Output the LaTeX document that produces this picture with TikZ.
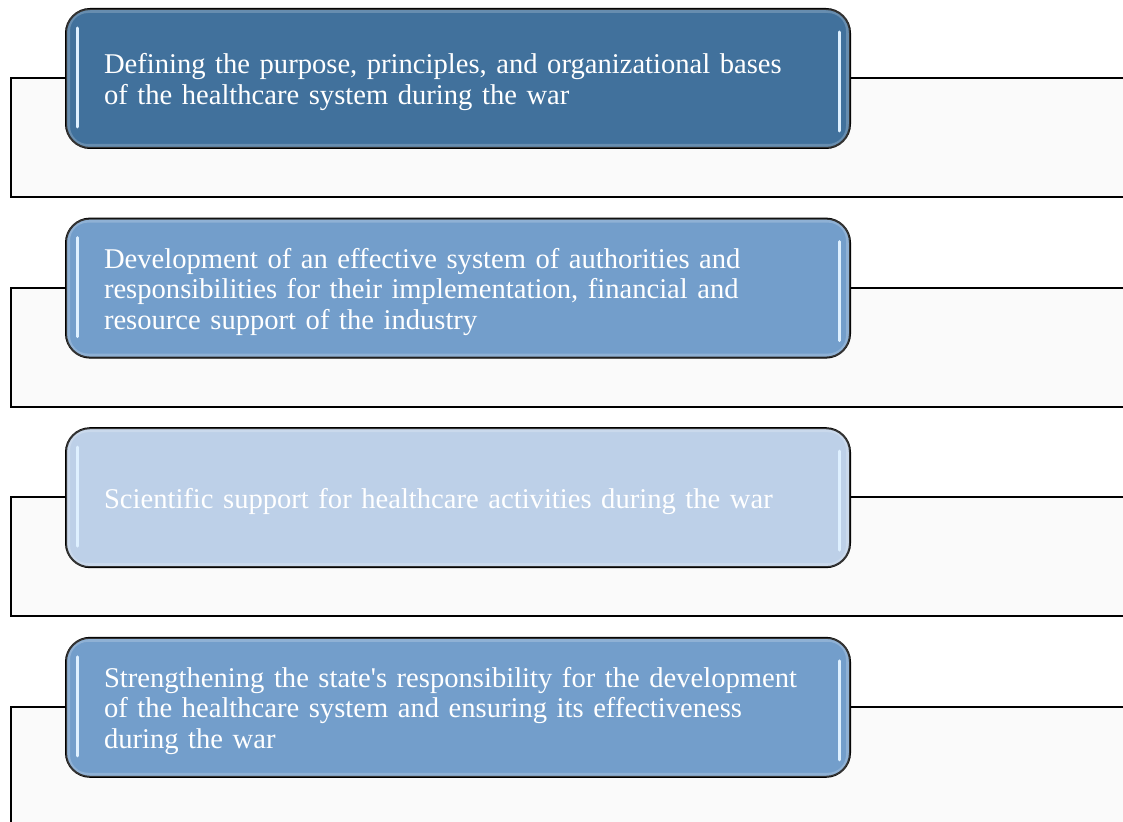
\documentclass[tikz,border=0pt]{standalone}
\usepackage{fontspec}
\setmainfont{Liberation Serif}
\definecolor{boxA}{RGB}{65,113,156}
\definecolor{boxB}{RGB}{115,158,203}
\definecolor{boxC}{RGB}{189,208,232}
\definecolor{panel}{RGB}{250,250,250}
\definecolor{shine}{RGB}{222,240,255}
\tikzset{
  panelbox/.style={draw=black, line width=2pt, fill=panel, rectangle, anchor=north west, minimum width=1130, minimum height=119, inner sep=0},
  stepbox/.style={draw=black, line width=2pt, rounded corners=24, rectangle, minimum width=784, minimum height=139, inner sep=0},
  steptext/.style={inner sep=0, text width=708, align=left, text=white, font=\fontsize{28.6}{30.5}\selectfont},
  shineline/.style={draw=shine, line width=3pt, line cap=round},
  rimline/.style={draw=white, opacity=0.2, line width=4pt, rounded corners=20},
}
\begin{document}
\begin{tikzpicture}[x=1pt,y=-1pt]
\useasboundingbox (0,0) rectangle (1123,821);
\clip (0,0) rectangle (1123,821);
\foreach \i/\col/\txt in {
  0/boxA/{Defining the purpose, principles, and organizational bases\\of the healthcare system during the war},
  1/boxB/{Development of an effective system of authorities and\\responsibilities for their implementation, financial and\\resource support of the industry},
  2/boxC/{Scientific support for healthcare activities during the war},
  3/boxB/{Strengthening the state\textquotesingle s responsibility for the development\\of the healthcare system and ensuring its effectiveness\\during the war}} {
  \pgfmathsetmacro{\yoff}{209.6*\i}
  \node[panelbox] (p\i) at (10,77+\yoff) {};
  \node[stepbox, fill=\col] (b\i) at (458,78.5+\yoff) {};
  \draw[rimline] ([xshift=3,yshift=-3]b\i.north west) rectangle ([xshift=-3,yshift=3]b\i.south east);
  \draw[shineline] ([xshift=12,yshift=-20]b\i.north west) -- ([xshift=12,yshift=22]b\i.south west);
  \draw[shineline] ([xshift=-12,yshift=-24]b\i.north east) -- ([xshift=-12,yshift=18]b\i.south east);
  \node[steptext] (t\i) at ([yshift=-3.5]b\i.center) {\txt};
}
\end{tikzpicture}
\end{document}
